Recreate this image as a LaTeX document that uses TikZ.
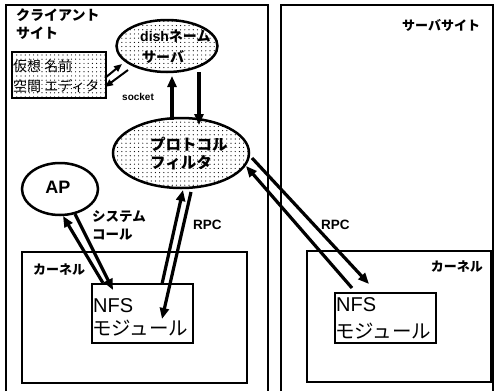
\documentclass[tikz,border=0pt]{standalone}
\usepackage{fontspec}
\setmainfont{Noto Sans CJK JP}
\newfontfamily\lat{Liberation Sans}
\usetikzlibrary{arrows.meta,patterns.meta,shapes.geometric}
\tikzset{
  frame/.style={draw,line width=1.8pt},
  kernelbox/.style={draw,line width=2.4pt},
  modbox/.style={draw,line width=1.5pt,inner sep=0pt},
  dotfill/.style={pattern={Dots[distance=4.2pt,radius=0.6pt]}},
  proc/.style={draw,ellipse,line width=2.5pt,inner sep=0pt},
  lbl/.style={inner sep=0pt,anchor=west,font=\bfseries},
  flow/.style={line width=3.2pt,-{Triangle[length=11pt,width=9pt]}},
  thinflow/.style={line width=2pt,-{Triangle[length=8pt,width=6.5pt]}},
}
\begin{document}
\begin{tikzpicture}[x=1pt,y=-1pt]
\useasboundingbox (0,0) rectangle (494,391);

% client and server sites (open at the bottom)
\draw[frame] (6,391) -- (6,5) -- (268,5) -- (268,391);
\draw[frame] (281,391) -- (281,5) -- (493,5) -- (493,391);
\node[lbl,font=\bfseries\fontsize{14}{18}\selectfont,align=left,anchor=north west] (client) at (16,9) {クライアント\\サイト};
\node[lbl,font=\bfseries\fontsize{13}{15}\selectfont] (server) at (402,25) {サーバサイト};

% kernels
\draw[kernelbox] (22,252) rectangle (247,383);
\node[lbl,font=\bfseries\fontsize{13}{15}\selectfont] (kc) at (33,270) {カーネル};
\draw[kernelbox] (307,251) rectangle (491,382);
\node[lbl,font=\bfseries\fontsize{13}{15}\selectfont,anchor=east] (ks) at (483,267) {カーネル};

% NFS modules
\node[modbox,minimum width=101pt,minimum height=59pt] (nfsc) at (142.5,313.5) {};
\node[anchor=west,inner sep=0pt,font=\lat\fontsize{20}{20}\selectfont] at (93,306) {NFS};
\node[anchor=west,inner sep=0pt,font=\fontsize{19.5}{20}\selectfont] at (92,328) {モジュール};
\node[modbox,minimum width=101pt,minimum height=50pt] (nfss) at (385.5,318) {};
\node[anchor=west,inner sep=0pt,font=\lat\fontsize{20}{20}\selectfont] at (336,305) {NFS};
\node[anchor=west,inner sep=0pt,font=\fontsize{19.5}{20}\selectfont] at (335,331) {モジュール};

% name server, editor, protocol filter, application
\node[proc,dotfill,minimum width=101pt,minimum height=52pt] (dns) at (167,46) {};
\node[lbl,font=\bfseries\fontsize{14}{16}\selectfont] at (140,36) {{\lat dish}ネーム};
\node[lbl,font=\bfseries\fontsize{14}{16}\selectfont] at (142,57) {サーバ};

\node[draw,line width=2.6pt,dotfill,minimum width=94pt,minimum height=46pt,inner sep=0pt] (ed) at (59,75) {};
\node[lbl,font=\fontsize{14}{16}\selectfont] at (13,66) {仮想 名前};
\node[lbl,font=\fontsize{14}{16}\selectfont] at (13,86) {空間 エディタ};

\node[proc,dotfill,minimum width=136pt,minimum height=70pt] (pf) at (181,153) {};
\node[lbl,font=\bfseries\fontsize{15.5}{17}\selectfont] at (150,144) {プロトコル};
\node[lbl,font=\bfseries\fontsize{15.5}{17}\selectfont] at (150,163) {フィルタ};

\node[proc,minimum width=76pt,minimum height=52pt] (ap) at (60,189) {};
\node[inner sep=0pt,font=\lat\bfseries\fontsize{18}{18}\selectfont] at (58,187) {AP};

% connector labels
\node[lbl,font=\lat\bfseries\fontsize{10}{12}\selectfont] (sock) at (122,97) {socket};
\node[lbl,font=\bfseries\fontsize{13.5}{15}\selectfont] at (92,217) {システム};
\node[lbl,font=\bfseries\fontsize{13.5}{15}\selectfont] at (92,235) {コール};
\node[lbl,font=\lat\bfseries\fontsize{13.5}{15}\selectfont] at (193,225) {RPC};
\node[lbl,font=\lat\bfseries\fontsize{13.5}{15}\selectfont] at (321,225) {RPC};

% arrow end points
\coordinate (e1) at (105,78);  \coordinate (d1) at (122,64);
\coordinate (d2) at (128,70);  \coordinate (e2) at (105,87);
\coordinate (p1) at (172,120); \coordinate (d3) at (172,76);
\coordinate (d4) at (199,72);  \coordinate (p2) at (199,125);
\coordinate (n1) at (103,283); \coordinate (a1) at (63,216);
\coordinate (a2) at (75,214);  \coordinate (n2) at (113,290);
\coordinate (n3) at (162,284); \coordinate (p3) at (183,190);
\coordinate (p4) at (191,192); \coordinate (n4) at (162,319);
\coordinate (s1) at (352,288); \coordinate (p5) at (246,166);
\coordinate (p6) at (252,158); \coordinate (s2) at (369,284);

% connectors
\draw[thinflow] (e1) -- (d1);
\draw[thinflow] (d2) -- (e2);
\draw[flow] (p1) -- (d3);
\draw[flow] (d4) -- (p2);
\draw[flow] (n1) -- (a1);
\draw[flow] (a2) -- (n2);
\draw[flow] (n3) -- (p3);
\draw[flow] (p4) -- (n4);
\draw[flow] (s1) -- (p5);
\draw[flow] (p6) -- (s2);
\end{tikzpicture}
\end{document}
